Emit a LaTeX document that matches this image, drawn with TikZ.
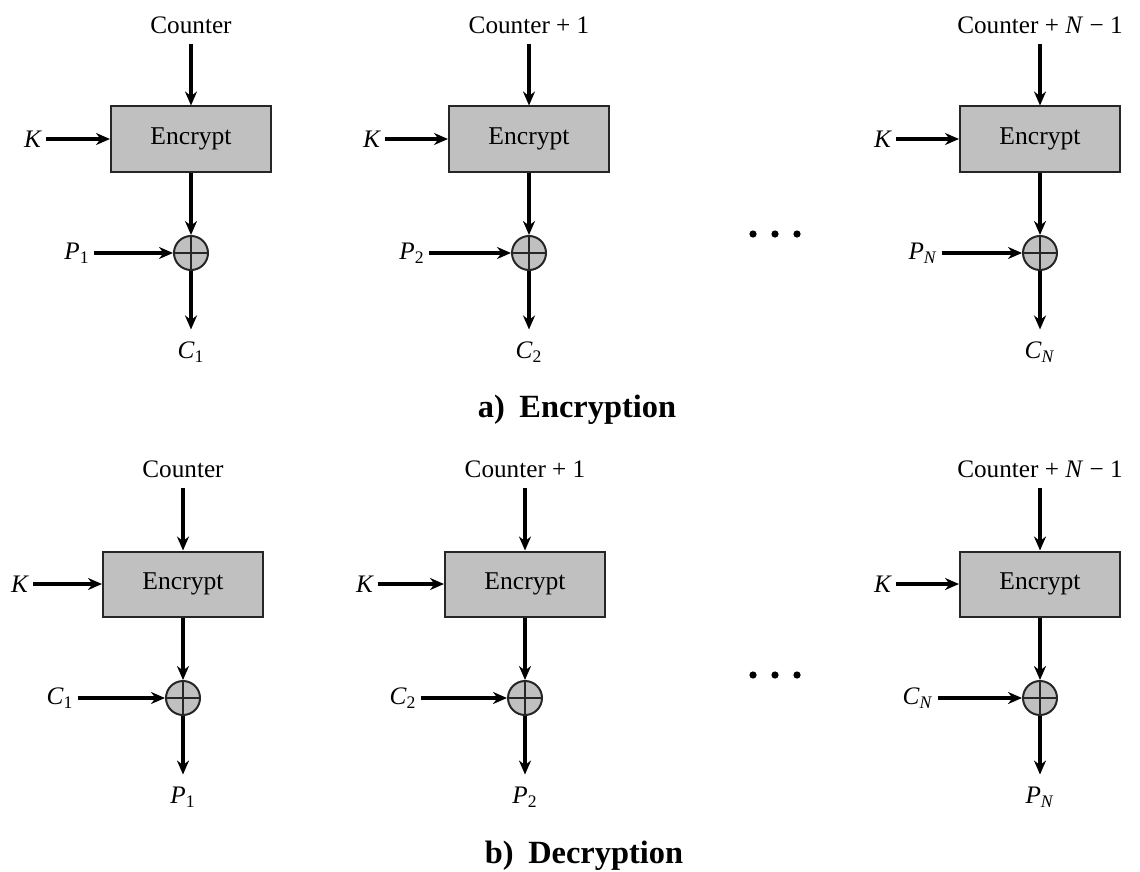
\documentclass[tikz,border=0pt]{standalone}
\usepackage{fontspec}
\setmainfont{Liberation Serif}
\usetikzlibrary{arrows.meta}
\definecolor{boxgray}{RGB}{192,192,192}
\newcommand{\sym}[2]{\textit{#1}\textsubscript{#2}}
\tikzset{
	encbox/.style={draw=black!85, line width=1pt, fill=boxgray, minimum width=80pt, minimum height=32.5pt, inner sep=0pt, font=\fontsize{12.8}{15}\selectfont},
	xorgate/.style={circle, draw=black!85, line width=1pt, fill=boxgray, minimum size=17pt, inner sep=0pt,
		path picture={\draw[line width=0.7pt] (path picture bounding box.north) -- (path picture bounding box.south)
			(path picture bounding box.west) -- (path picture bounding box.east);}},
	lbl/.style={font=\fontsize{12.6}{15}\selectfont, inner sep=2pt},
	flow/.style={-{Stealth[length=7pt,width=6pt]}, line width=1.8pt},
	capt/.style={font=\fontsize{16.2}{19}\selectfont\bfseries},
	gapdot/.style={circle, fill=black, inner sep=0pt, minimum size=3.6pt}
}
\begin{document}
\begin{tikzpicture}[x=0.5pt,y=-0.5pt]
		\useasboundingbox (0,0) rectangle (1140,872);

		% a) Encryption
		\node[lbl] (ca1) at (191,25) {Counter};
		\node[encbox] (ea1) at (191,139) {Encrypt};
		\node[lbl] (ka1) at (33,139) {\textit{K}};
		\node[xorgate] (xa1) at (191,253) {};
		\node[lbl] (ia1) at (77,253) {\sym{P}{1}};
		\node[lbl] (oa1) at (191,352) {\sym{C}{1}};

		\node[lbl] (ca2) at (529,25) {Counter + 1};
		\node[encbox] (ea2) at (529,139) {Encrypt};
		\node[lbl] (ka2) at (372,139) {\textit{K}};
		\node[xorgate] (xa2) at (529,253) {};
		\node[lbl] (ia2) at (412,253) {\sym{P}{2}};
		\node[lbl] (oa2) at (529,352) {\sym{C}{2}};

		\node[lbl] (ca3) at (1040,25) {Counter + \textit{N} − 1};
		\node[encbox] (ea3) at (1040,139) {Encrypt};
		\node[lbl] (ka3) at (883,139) {\textit{K}};
		\node[xorgate] (xa3) at (1040,253) {};
		\node[lbl] (ia3) at (923,253) {\sym{P}{\textit{N}}};
		\node[lbl] (oa3) at (1040,352) {\sym{C}{\textit{N}}};

		\node[gapdot] (da1) at (753,234) {};
		\node[gapdot] (da2) at (775,234) {};
		\node[gapdot] (da3) at (797,234) {};

		\node[capt] (capa) at (577,410) {a)\hspace{0.45em}Encryption};

		\draw[flow, shorten <=3pt] (ca1) -- (ea1);
		\draw[flow] (ka1) -- (ea1);
		\draw[flow] (ea1) -- (xa1);
		\draw[flow] (ia1) -- (xa1);
		\draw[flow, shorten >=4pt] (xa1) -- (oa1);

		\draw[flow, shorten <=3pt] (ca2) -- (ea2);
		\draw[flow] (ka2) -- (ea2);
		\draw[flow] (ea2) -- (xa2);
		\draw[flow] (ia2) -- (xa2);
		\draw[flow, shorten >=4pt] (xa2) -- (oa2);

		\draw[flow, shorten <=3pt] (ca3) -- (ea3);
		\draw[flow] (ka3) -- (ea3);
		\draw[flow] (ea3) -- (xa3);
		\draw[flow] (ia3) -- (xa3);
		\draw[flow, shorten >=4pt] (xa3) -- (oa3);

		% b) Decryption
		\node[lbl] (cb1) at (183,469) {Counter};
		\node[encbox] (eb1) at (183,584) {Encrypt};
		\node[lbl] (kb1) at (20,584) {\textit{K}};
		\node[xorgate] (xb1) at (183,698) {};
		\node[lbl] (ib1) at (60,698) {\sym{C}{1}};
		\node[lbl] (ob1) at (183,797) {\sym{P}{1}};

		\node[lbl] (cb2) at (525,469) {Counter + 1};
		\node[encbox] (eb2) at (525,584) {Encrypt};
		\node[lbl] (kb2) at (365,584) {\textit{K}};
		\node[xorgate] (xb2) at (525,698) {};
		\node[lbl] (ib2) at (403,698) {\sym{C}{2}};
		\node[lbl] (ob2) at (525,797) {\sym{P}{2}};

		\node[lbl] (cb3) at (1040,469) {Counter + \textit{N} − 1};
		\node[encbox] (eb3) at (1040,584) {Encrypt};
		\node[lbl] (kb3) at (883,584) {\textit{K}};
		\node[xorgate] (xb3) at (1040,698) {};
		\node[lbl] (ib3) at (918,698) {\sym{C}{\textit{N}}};
		\node[lbl] (ob3) at (1040,797) {\sym{P}{\textit{N}}};

		\node[gapdot] (db1) at (753,675) {};
		\node[gapdot] (db2) at (775,675) {};
		\node[gapdot] (db3) at (797,675) {};

		\node[capt] (capb) at (584,856) {b)\hspace{0.45em}Decryption};

		\draw[flow, shorten <=3pt] (cb1) -- (eb1);
		\draw[flow] (kb1) -- (eb1);
		\draw[flow] (eb1) -- (xb1);
		\draw[flow] (ib1) -- (xb1);
		\draw[flow, shorten >=4pt] (xb1) -- (ob1);

		\draw[flow, shorten <=3pt] (cb2) -- (eb2);
		\draw[flow] (kb2) -- (eb2);
		\draw[flow] (eb2) -- (xb2);
		\draw[flow] (ib2) -- (xb2);
		\draw[flow, shorten >=4pt] (xb2) -- (ob2);

		\draw[flow, shorten <=3pt] (cb3) -- (eb3);
		\draw[flow] (kb3) -- (eb3);
		\draw[flow] (eb3) -- (xb3);
		\draw[flow] (ib3) -- (xb3);
		\draw[flow, shorten >=4pt] (xb3) -- (ob3);
\end{tikzpicture}
\end{document}
